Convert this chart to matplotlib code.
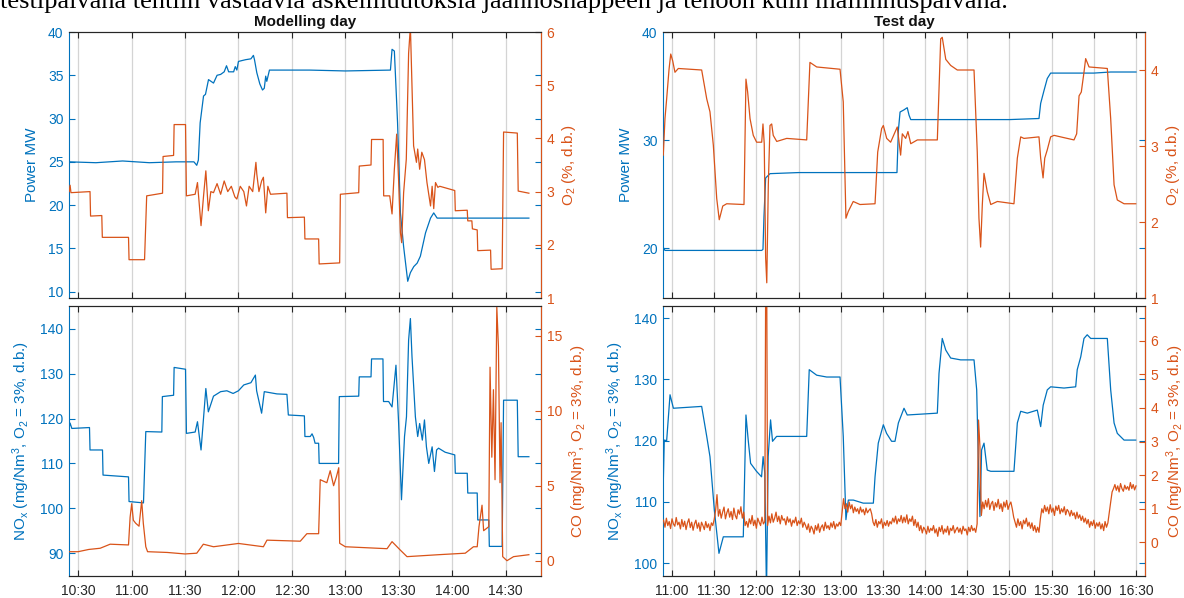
import numpy as np
import matplotlib
matplotlib.use("Agg")
import matplotlib.pyplot as plt
from matplotlib.ticker import FixedLocator, FuncFormatter

plt.rcParams['font.family'] = ['Liberation Sans', 'DejaVu Sans']
plt.rcParams['mathtext.default'] = 'regular'

BLUE = '#0072BD'
ORANGE = '#D95319'
DARK = '#262626'

# ---------------- Modelling day ----------------
md_power_t = ["10:25", "10:40", "10:55", "11:10", "11:25", "11:35", "11:36.6", "11:37.5", "11:38.5",
              "11:40.4", "11:41.5", "11:43.2", "11:46", "11:48", "11:50", "11:52", "11:53.3", "11:54.5",
              "11:57.3", "11:58.2", "11:59.1", "12:00", "12:04", "12:07", "12:08.4", "12:09", "12:10.3",
              "12:12", "12:13.5", "12:14.5", "12:15.3", "12:15.9", "12:17.4", "12:40", "13:00", "13:25.3",
              "13:26.2", "13:27.5", "13:28.4", "13:29.3", "13:30.9", "13:32.7", "13:35", "13:36.5",
              "13:38.4", "13:40.3", "13:42.1", "13:45", "13:47.8", "13:49.6", "13:51.5", "14:43"]
md_power = [25.0, 24.9, 25.1, 24.9, 25.0, 25.0, 24.6, 25.2, 29.5,
            32.6, 32.8, 34.5, 34.1, 35.0, 35.1, 35.4, 36.1, 35.4,
            35.4, 36.0, 35.6, 36.6, 36.8, 36.9, 37.3, 36.8, 35.3,
            34.0, 33.3, 33.5, 34.9, 34.3, 35.6, 35.6, 35.5, 35.6,
            38.0, 37.8, 33.7, 29.5, 19.1, 15.2, 11.2, 12.2,
            12.9, 13.3, 14.1, 16.8, 18.5, 19.1, 18.5, 18.5]

md_o2_t = ["10:25", "10:25.5", "10:26", "10:36.7", "10:37", "10:43.3", "10:43.6", "10:58.3", "10:58.6",
           "11:07.3", "11:08.5", "11:17.4", "11:17.7", "11:23.6", "11:23.9", "11:30.3", "11:30.8",
           "11:35.7", "11:37", "11:39", "11:40.5", "11:41.7", "11:43.1", "11:44.5", "11:46", "11:48",
           "11:50", "11:52", "11:54", "11:56", "11:58", "11:59.1", "12:01", "12:03", "12:04.5", "12:06",
           "12:08", "12:09.8", "12:10.3", "12:11.5", "12:13", "12:14", "12:15.3", "12:16.5", "12:18",
           "12:27.2", "12:27.5", "12:37", "12:37.3", "12:45", "12:45.3", "12:56.8", "12:57.2", "13:07.5",
           "13:07.8", "13:14.4", "13:14.7", "13:21.2", "13:21.5", "13:24.9", "13:26.2", "13:27.5",
           "13:28.8", "13:29.9", "13:30.9", "13:31.6", "13:32.7", "13:34.2", "13:35.5", "13:36.5",
           "13:37.4", "13:38.3", "13:39.9", "13:40.6", "13:41.7", "13:42.9", "13:44.4", "13:45.8",
           "13:47.8", "13:48.7", "13:49.6", "13:50.6", "13:51.9", "13:53", "14:01.4", "14:01.7",
           "14:08.4", "14:08.7", "14:11", "14:11.3", "14:14", "14:14.3", "14:21.5", "14:21.8", "14:28",
           "14:28.8", "14:36.5", "14:37", "14:43"]
md_o2 = [3.0, 3.12, 2.98, 3.0, 2.54, 2.55, 2.14, 2.14, 1.72,
         1.72, 2.92, 2.97, 3.66, 3.68, 4.26, 4.26, 2.92,
         2.95, 3.17, 2.36, 2.95, 3.39, 2.64, 3.0, 2.98, 3.15,
         2.95, 3.2, 3.0, 3.1, 2.9, 2.86, 3.1, 3.0, 2.73, 3.1,
         3.0, 3.55, 3.33, 3.0, 3.2, 3.27, 2.6, 3.1, 2.95,
         2.97, 2.51, 2.52, 2.11, 2.11, 1.64, 1.66, 2.95, 2.98,
         3.48, 3.5, 3.98, 3.98, 2.92, 2.92, 2.58, 3.42,
         4.08, 3.2, 2.23, 2.04, 2.98, 3.61, 5.6, 6.1,
         4.98, 3.86, 3.55, 3.8, 3.42, 3.74, 3.6, 3.17,
         2.73, 3.1, 2.68, 3.17, 3.08, 3.1, 3.02, 2.64,
         2.65, 2.45, 2.45, 2.3, 2.28, 1.89, 1.9, 1.54, 1.55,
         4.12, 4.1, 3.01, 2.97]

md_nox_t = ["10:25", "10:25.5", "10:26.5", "10:36.4", "10:36.7", "10:43.7", "10:44", "10:58.3", "10:58.6",
            "11:06.7", "11:08", "11:17", "11:17.3", "11:23.6", "11:23.9", "11:30.3", "11:30.8", "11:35.7",
            "11:37", "11:39", "11:41.7", "11:43.1", "11:46", "11:50", "11:53.5", "11:57", "12:00", "12:03",
            "12:07", "12:09.5", "12:10.2", "12:13", "12:14.5", "12:21.6", "12:27.2", "12:28", "12:37",
            "12:37.3", "12:40.3", "12:41.3", "12:42.2", "12:43", "12:45", "12:45.3", "12:56.2", "12:56.6",
            "13:07.5", "13:07.8", "13:14.4", "13:14.7", "13:21.1", "13:21.4", "13:24.3", "13:26.2",
            "13:28.4", "13:29.9", "13:31.5", "13:33.2", "13:34.3", "13:35.5", "13:36.5", "13:37.4",
            "13:39.3", "13:40.6", "13:41.7", "13:43.2", "13:44.4", "13:45.5", "13:46.8", "13:48.7",
            "13:50", "13:51.2", "13:52.3", "13:56", "14:01.4", "14:01.7", "14:08.4", "14:08.7", "14:14",
            "14:14.3", "14:20.5", "14:20.8", "14:28", "14:28.8", "14:36.5", "14:37", "14:43"]
md_nox = [118.0, 119.0, 117.8, 118.0, 113.0, 113.0, 107.4, 107.0, 101.5,
          101.2, 117.1, 117.0, 124.9, 125.2, 131.4, 131.0, 116.7, 117.0,
          119.3, 113.0, 126.7, 121.5, 125.0, 126.0, 126.2, 125.6, 126.2, 127.5,
          128.0, 129.7, 126.2, 121.2, 126.0, 125.5, 125.4, 120.8, 120.6,
          116.0, 116.0, 116.6, 115.8, 114.5, 114.5, 110.0, 110.0, 124.9,
          125.0, 129.3, 129.3, 133.3, 133.3, 123.8, 123.8, 122.6,
          131.9, 118.9, 101.9, 116.0, 120.4, 137.5, 142.3, 133.8,
          120.4, 116.0, 118.9, 115.2, 119.7, 113.7, 110.0, 113.7,
          108.2, 113.0, 113.4, 112.5, 111.9, 107.8, 107.8, 103.4, 103.4,
          97.4, 97.4, 91.5, 91.5, 124.1, 124.1, 111.5, 111.5]

md_co_t = ["10:25", "10:30", "10:36", "10:42.4", "10:48", "10:58.3", "10:59.2", "11:00.1", "11:01",
           "11:02.3", "11:04.2", "11:05.7", "11:06.6", "11:08", "11:09", "11:20", "11:30", "11:36.6",
           "11:40.3", "11:46", "12:00", "12:14", "12:16", "12:34.7", "12:38.4", "12:45", "12:45.9",
           "12:49.6", "12:51.5", "12:53.4", "12:55", "12:56.3", "12:56.8", "13:00", "13:23.4", "13:26.2",
           "13:30.9", "13:34.6", "13:52.3", "14:07.3", "14:11.9", "14:14", "14:15", "14:16.7", "14:17.6",
           "14:20.5", "14:21.2", "14:22.2", "14:23.1", "14:24", "14:25", "14:25.9", "14:26.8", "14:27.4",
           "14:28.3", "14:30.7", "14:34.4", "14:43"]
md_co = [0.6, 0.6, 0.75, 0.83, 1.1, 1.05, 2.9, 3.8, 2.7,
         2.5, 2.3, 4.0, 2.5, 0.93, 0.6, 0.55, 0.45, 0.5,
         1.1, 0.93, 1.15, 0.93, 1.37, 1.3, 1.8, 1.8, 5.4,
         5.2, 6.0, 5.0, 5.6, 6.2, 1.16, 0.93, 0.8, 1.27,
         0.7, 0.27, 0.4, 0.5, 0.93, 0.93, 2.27, 3.7, 2.0,
         2.27, 12.9, 6.9, 11.4, 5.4, 16.9, 14.3, 5.2, 9.2,
         0.27, 0.0, 0.27, 0.4]

# ---------------- Test day ----------------
td_power_t = ["10:53.7", "10:55", "12:03.8", "12:04.7", "12:05.4", "12:06.6", "12:09.7", "12:30", "13:00",
              "13:40", "13:41", "13:42.2", "13:45", "13:47.3", "13:48.6", "13:49.8", "14:30", "15:00",
              "15:21", "15:22.2", "15:24.6", "15:26.9", "15:29.3", "16:00", "16:12", "16:30"]
td_power = [20.1, 19.8, 19.8, 19.9, 22.9, 26.5, 26.9, 27.0, 27.0,
            27.0, 30.9, 32.6, 32.8, 33.0, 32.3, 31.9, 31.9, 31.9,
            32.0, 33.4, 34.6, 35.7, 36.2, 36.2, 36.3, 36.3]

td_o2_t = ["10:53.8", "10:55", "10:56.2", "10:57.9", "10:59.1", "11:00.5", "11:02.1", "11:04.5", "11:21.1",
           "11:24.7", "11:27", "11:29.4", "11:31.8", "11:33.6", "11:36.1", "11:38.9", "11:51.2", "11:52.6",
           "11:53.8", "11:55.5", "11:57.8", "12:00.2", "12:03.8", "12:04.7", "12:05.6", "12:06.6",
           "12:07.4", "12:08.5", "12:09.7", "12:10.9", "12:12", "12:14.5", "12:21.6", "12:35.8", "12:38.1",
           "12:42.9", "12:59.5", "13:01.8", "13:03.7", "13:05.4", "13:08.9", "13:13.7", "13:24.4",
           "13:26.3", "13:29.1", "13:30.3", "13:32.7", "13:35.5", "13:40.2", "13:42.6", "13:43.8",
           "13:46.2", "13:47.8", "13:49.8", "13:54.5", "14:08.7", "14:11.1", "14:12.2", "14:14.7",
           "14:18.2", "14:22.9", "14:34.8", "14:37.1", "14:38.3", "14:39.5", "14:40.7", "14:41.9",
           "14:44.2", "14:46.7", "14:51.4", "15:03.2", "15:05.6", "15:08", "15:10.3", "15:21", "15:22.2",
           "15:23.9", "15:25.1", "15:26.9", "15:29.3", "15:31.7", "15:41.1", "15:45.9", "15:47.8",
           "15:49.5", "15:51.1", "15:53", "15:54.2", "15:56.6", "16:09.6", "16:12", "16:14.4", "16:16.7",
           "16:21.5", "16:29.8"]
td_o2 = [2.88, 3.36, 3.62, 4.01, 4.21, 4.12, 3.97, 4.02, 4.0,
         3.62, 3.45, 3.01, 2.31, 2.03, 2.21, 2.24, 2.23, 3.88,
         3.71, 3.36, 3.14, 3.05, 3.05, 3.29, 3.03, 1.53,
         1.2, 2.49, 3.27, 3.29, 3.14, 3.06, 3.1, 3.08, 4.1,
         4.04, 4.01, 3.58, 2.05, 2.14, 2.27, 2.23, 2.24,
         2.92, 3.23, 3.27, 3.1, 3.05, 3.25, 2.88, 3.16,
         3.1, 3.19, 3.03, 3.08, 3.08, 4.41, 4.43, 4.14,
         4.06, 4.0, 4.0, 2.92, 2.05, 1.67, 2.23, 2.64,
         2.4, 2.23, 2.27, 2.24, 2.84, 3.12, 3.1, 3.12, 2.84,
         2.58, 2.84, 2.95, 3.12, 3.14, 3.1, 3.08, 3.16,
         3.66, 3.71, 3.97, 4.15, 4.04, 4.02, 3.36, 2.49, 2.29,
         2.24, 2.24]

td_nox_t = ["10:53.8", "10:54.5", "10:56.2", "10:58.6", "11:01", "11:21.1", "11:24.7", "11:27", "11:30.1",
            "11:33.4", "11:36.5", "11:50.7", "11:52.6", "11:54.2", "11:55.9", "12:00.1", "12:03.7",
            "12:04.8", "12:06", "12:07.2", "12:08.4", "12:10.1", "12:11.5", "12:14.4", "12:35.8",
            "12:37.6", "12:42.9", "12:50", "12:59.5", "13:01.8", "13:03.7", "13:05.4", "13:09", "13:16",
            "13:23.2", "13:24.4", "13:26.7", "13:30.3", "13:32.6", "13:36.2", "13:38.6", "13:41", "13:45",
            "13:47.3", "14:08.7", "14:09.9", "14:12.2", "14:14.7", "14:18.2", "14:25.3", "14:34.8",
            "14:36.7", "14:37.8", "14:39", "14:40.2", "14:41.9", "14:44.2", "14:46.7", "15:03.2",
            "15:05.6", "15:08", "15:12.7", "15:19.8", "15:22.2", "15:24", "15:26.9", "15:29.3", "15:38.8",
            "15:47.1", "15:48.2", "15:50.7", "15:53", "15:55.3", "15:57.8", "16:09.6", "16:12", "16:14.4",
            "16:16.7", "16:21.5", "16:29.8"]
td_nox = [113.1, 120.1, 120.0, 127.5, 125.3, 125.6, 120.7, 117.4, 108.7,
          101.6, 104.3, 104.3, 124.2, 120.1, 116.3, 115.0, 114.1,
          117.4, 114.7, 95.0, 117.4, 123.4, 119.9, 120.7, 120.7,
          131.6, 130.7, 130.4, 130.4, 120.7, 107.1, 110.3, 110.3, 109.8,
          109.8, 114.1, 119.6, 122.6, 121.2, 119.9, 119.9, 122.9, 125.3,
          124.2, 124.5, 131.0, 136.7, 134.8, 133.5, 133.2, 133.2,
          128.3, 117.4, 107.6, 118.5, 119.6, 115.2, 115.0, 115.0,
          122.9, 124.8, 124.5, 125.0, 122.3, 125.8, 128.3, 128.8, 128.6,
          128.8, 131.6, 133.7, 136.7, 137.3, 136.7, 136.7, 128.3, 122.9,
          121.2, 120.1, 120.1]

# CO on the test day, one reading per minute from 10:54 to 16:30
td_co_start = "10:54"
td_co = [0.66, 0.45, 0.72, 0.5, 0.62, 0.41, 0.7, 0.55, 0.48, 0.74,
         0.52, 0.6, 0.4, 0.68, 0.47, 0.63, 0.38, 0.58, 0.7, 0.44,
         0.6, 0.36, 0.55, 0.66, 0.42, 0.58, 0.33, 0.6, 0.5, 0.38,
         0.62, 0.44, 0.55, 0.35, 0.58, 0.5, 0.68, 0.95, 1.42, 0.78,
         0.98, 0.72, 0.9, 1.05, 0.7, 0.88, 1.0, 0.75, 0.92, 0.68,
         1.02, 0.8, 0.7, 0.97, 0.84, 1.06, 0.72, 0.9, 0.5, 0.62,
         0.45, 0.7, 0.55, 0.8, 0.5, 0.66, 0.42, 0.72, 0.6, 0.5,
         0.75, 0.55, 0.62, 12.0, 0.5, 0.78, 0.58, 0.85, 0.6, 0.72,
         0.9, 0.62, 0.78, 0.55, 0.8, 0.66, 0.7, 0.52, 0.76, 0.6,
         0.7, 0.48, 0.66, 0.58, 0.75, 0.5, 0.64, 0.55, 0.72, 0.45,
         0.6, 0.5, 0.38, 0.55, 0.3, 0.48, 0.4, 0.25, 0.5, 0.36,
         0.55, 0.3, 0.45, 0.52, 0.35, 0.6, 0.42, 0.5, 0.38, 0.58,
         0.45, 0.62, 0.4, 0.55, 0.48, 0.6, 0.5, 0.9, 1.3, 1.0,
         1.15, 0.9, 1.2, 1.0, 1.12, 0.88, 1.05, 0.92, 1.0, 0.85,
         1.05, 0.9, 0.98, 0.82, 1.02, 0.88, 0.95, 1.0, 0.85, 0.6,
         0.5, 0.68, 0.45, 0.62, 0.55, 0.7, 0.42, 0.6, 0.5, 0.65,
         0.48, 0.62, 0.55, 0.72, 0.6, 0.78, 0.55, 0.7, 0.62, 0.8,
         0.58, 0.75, 0.6, 0.82, 0.55, 0.7, 0.62, 0.78, 0.5, 0.68,
         0.45, 0.6, 0.35, 0.5, 0.28, 0.45, 0.38, 0.25, 0.48, 0.3,
         0.42, 0.35, 0.5, 0.28, 0.4, 0.18, 0.45, 0.32, 0.5, 0.25,
         0.4, 0.3, 0.48, 0.22, 0.42, 0.35, 0.5, 0.28, 0.38, 0.45,
         0.3, 0.42, 0.25, 0.48, 0.35, 0.4, 0.22, 0.45, 0.32, 0.5,
         0.35, 0.42, 0.3, 0.55, 3.64, 2.85, 0.8, 1.2, 1.0, 1.25,
         1.05, 1.3, 0.98, 1.15, 1.22, 0.95, 1.18, 1.05, 1.28, 1.0,
         1.15, 0.92, 1.2, 1.05, 1.25, 0.98, 1.12, 1.2, 1.0, 0.75,
         0.6, 0.45, 0.7, 0.5, 0.62, 0.4, 0.66, 0.55, 0.72, 0.48,
         0.6, 0.42, 0.58, 0.35, 0.5, 0.3, 0.45, 0.3, 0.7, 1.0,
         0.88, 1.1, 0.92, 1.05, 0.85, 1.12, 0.9, 1.02, 0.8, 1.08,
         0.95, 1.1, 0.85, 1.0, 0.9, 1.06, 0.82, 0.98, 0.92, 0.78,
         0.95, 0.8, 0.88, 0.7, 0.9, 0.72, 0.82, 0.65, 0.78, 0.6,
         0.72, 0.55, 0.68, 0.45, 0.62, 0.5, 0.66, 0.42, 0.58, 0.48,
         0.6, 0.4, 0.55, 0.35, 0.62, 0.45, 0.58, 0.9, 1.2, 1.5,
         1.6, 1.72, 1.55, 1.68, 1.5, 1.75, 1.6, 1.52, 1.7, 1.58,
         1.66, 1.55, 1.78, 1.6, 1.72, 1.56, 1.68]

header_text = "testipäivänä tehtiin vastaavia askelmuutoksia jäännöshappeen ja tehoon kuin mallinnuspäivänä."


def to_min(times):
    out = []
    for s in times:
        h, m = s.split(':')
        out.append(int(h) * 60 + float(m))
    return np.array(out)


def clock(v, pos=None):
    v = int(round(v))
    return f"{v // 60}:{v % 60:02d}"


def style_pair(ax, ax2, xlim, xticks, left_ticks, right_ticks, ylim, ylim2, ylabel, ylabel2, bottom):
    ax.set_xlim(*xlim)
    ax.set_ylim(*ylim)
    ax2.set_ylim(*ylim2)
    ax.xaxis.set_major_locator(FixedLocator(xticks))
    ax.xaxis.set_major_formatter(FuncFormatter(clock))
    ax.set_yticks(left_ticks)
    ax2.set_yticks(right_ticks)
    ax.grid(axis='x', color='#d4d4d4', lw=0.9)
    ax.set_axisbelow(True)
    ax.tick_params(axis='x', direction='in', top=True, length=4, width=0.8,
                   colors=DARK, labelsize=10, labelbottom=bottom, pad=6)
    ax.tick_params(axis='y', direction='in', right=True, length=4, width=0.8,
                   colors=BLUE, labelsize=10, pad=4)
    ax2.tick_params(axis='y', direction='in', length=4, width=0.8,
                    colors=ORANGE, labelsize=10, pad=4)
    for sp in ('top', 'bottom'):
        ax.spines[sp].set_color(DARK)
        ax2.spines[sp].set_color(DARK)
    ax.spines['left'].set_color(BLUE)
    ax2.spines['left'].set_visible(False)
    ax2.spines['right'].set_color(ORANGE)
    for a in (ax, ax2):
        for sp in a.spines.values():
            sp.set_linewidth(0.8)
    ax.set_ylabel(ylabel, color=BLUE, fontsize=11, labelpad=6)
    ax2.set_ylabel(ylabel2, color=ORANGE, fontsize=11, labelpad=4)


fig = plt.figure(figsize=(11.84, 5.98), dpi=100)

td_co_t = to_min([td_co_start])[0] + np.arange(len(td_co))

panels = [
    dict(left=69 / 1184, width=472 / 1184, title="Modelling day",
         xlim=(to_min(["10:24.9"])[0], to_min(["14:49.8"])[0]),
         xticks=to_min(["10:30", "11:00", "11:30", "12:00", "12:30", "13:00", "13:30", "14:00", "14:30"]),
         power=(to_min(md_power_t), md_power), o2=(to_min(md_o2_t), md_o2),
         nox=(to_min(md_nox_t), md_nox), co=(to_min(md_co_t), md_co),
         p_ticks=[10, 15, 20, 25, 30, 35, 40], p_lim=(9.27, 40),
         o2_ticks=[1, 2, 3, 4, 5, 6], o2_lim=(1, 6),
         nox_ticks=[90, 100, 110, 120, 130, 140], nox_lim=(84.9, 145.1),
         co_ticks=[0, 5, 10, 15], co_lim=(-1.02, 16.98)),
    dict(left=663 / 1184, width=482 / 1184, title="Test day",
         xlim=(to_min(["10:53.6"])[0], to_min(["16:36.4"])[0]),
         xticks=to_min(["11:00", "11:30", "12:00", "12:30", "13:00", "13:30", "14:00", "14:30",
                        "15:00", "15:30", "16:00", "16:30"]),
         power=(to_min(td_power_t), td_power), o2=(to_min(td_o2_t), td_o2),
         nox=(to_min(td_nox_t), td_nox), co=(td_co_t, td_co),
         p_ticks=[20, 30, 40], p_lim=(15.4, 40),
         o2_ticks=[1, 2, 3, 4], o2_lim=(1, 4.5),
         nox_ticks=[100, 110, 120, 130, 140], nox_lim=(97.9, 142),
         co_ticks=[0, 1, 2, 3, 4, 5, 6], co_lim=(-1, 7.03)),
]

for p in panels:
    top = fig.add_axes([p['left'], 1 - 298 / 598, p['width'], 266 / 598])
    top2 = top.twinx()
    top.plot(p['power'][0], p['power'][1], color=BLUE, lw=0.9)
    top2.plot(p['o2'][0], p['o2'][1], color=ORANGE, lw=0.9)
    style_pair(top, top2, p['xlim'], p['xticks'], p['p_ticks'], p['o2_ticks'],
               p['p_lim'], p['o2_lim'], 'Power MW', 'O$_2$ (%, d.b.)', False)
    top.set_title(p['title'], fontsize=11, fontweight='bold', color='#111111', pad=4)

    bot = fig.add_axes([p['left'], 1 - 576 / 598, p['width'], 270 / 598])
    bot2 = bot.twinx()
    bot.plot(p['nox'][0], p['nox'][1], color=BLUE, lw=0.9)
    bot2.plot(p['co'][0], p['co'][1], color=ORANGE, lw=0.9)
    style_pair(bot, bot2, p['xlim'], p['xticks'], p['nox_ticks'], p['co_ticks'],
               p['nox_lim'], p['co_lim'],
               'NO$_x$ (mg/Nm$^3$, O$_2$ = 3%, d.b.)', 'CO (mg/Nm$^3$, O$_2$ = 3%, d.b.)', True)

fig.text(0.0, 1 - 8 / 598, header_text, family=['Liberation Serif', 'DejaVu Serif'],
         fontsize=19, va='baseline', ha='left', color='black')

fig.savefig('out.png', dpi=100)
